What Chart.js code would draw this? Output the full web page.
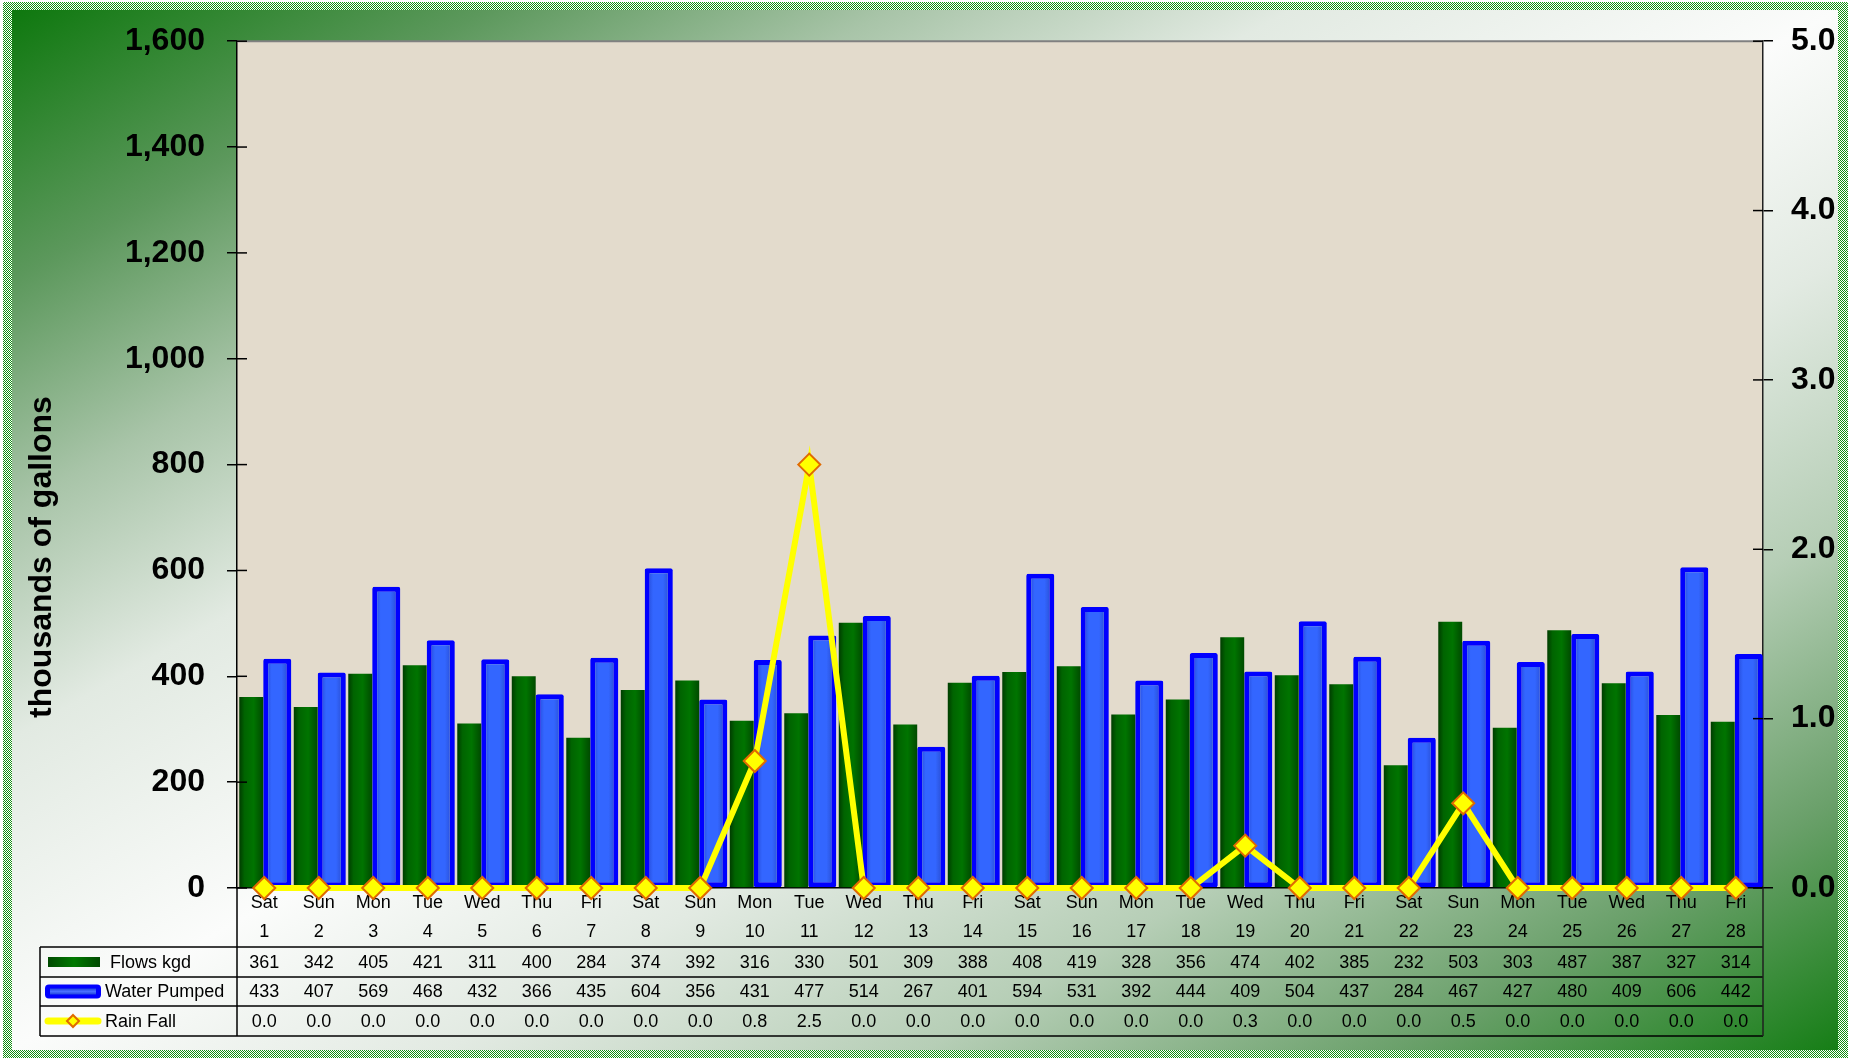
<!DOCTYPE html>
<html>
<head>
<meta charset="utf-8">
<title>Flows and Water Pumped</title>
<script src="https://cdn.jsdelivr.net/npm/chart.js@4.4.1/dist/chart.umd.min.js"></script>
<style>
  html, body { margin: 0; padding: 0; background: #fff; }
  #wrap { width: 1852px; height: 1060px; }
</style>
</head>
<body>
<div id="wrap"><canvas id="flowChart" width="1852" height="1060"></canvas></div>
<script>
// daily values
const days = ['Sat','Sun','Mon','Tue','Wed','Thu','Fri','Sat','Sun','Mon','Tue','Wed','Thu','Fri',
              'Sat','Sun','Mon','Tue','Wed','Thu','Fri','Sat','Sun','Mon','Tue','Wed','Thu','Fri'];
const dates = ['1','2','3','4','5','6','7','8','9','10','11','12','13','14',
               '15','16','17','18','19','20','21','22','23','24','25','26','27','28'];
const flows = [361,342,405,421,311,400,284,374,392,316,330,501,309,388,
               408,419,328,356,474,402,385,232,503,303,487,387,327,314];
const pumped = [433,407,569,468,432,366,435,604,356,431,477,514,267,401,
                594,531,392,444,409,504,437,284,467,427,480,409,606,442];
const rain = [0,0,0,0,0,0,0,0,0,0.75,2.5,0,0,0,
              0,0,0,0,0.25,0,0,0,0.5,0,0,0,0,0];
const seriesNames = ['Flows kgd','Water Pumped','Rain Fall'];
const axisTitle = 'thousands of gallons';

const FONT = "'Liberation Sans', Arial, sans-serif";
Chart.defaults.font.family = FONT;
Chart.defaults.color = '#000';

const CAT_PCT = 0.955;
const greenStops = [[0,'#003c00'],[0.22,'#006400'],[0.6,'#007400'],[1,'#004a00']];
const blueStops = [[0,'#1f3fc8'],[0.3,'#3366ff'],[0.65,'#3366ff'],[1,'#2444c0']];

// horizontal "cylinder" gradient for each bar, placed from the x scale
function barGradient(c, side, pct, stops) {
  const chart = c.chart, area = chart.chartArea, xs = chart.scales.x;
  if (!area || !xs || c.dataIndex === undefined) return stops[1][1];
  const slot = area.width / days.length * CAT_PCT / 2;
  const cx = xs.getPixelForValue(c.dataIndex) + side * slot / 2;
  const w = slot * pct;
  const g = chart.ctx.createLinearGradient(cx - w / 2, 0, cx + w / 2, 0);
  stops.forEach(s => g.addColorStop(s[0], s[1]));
  return g;
}

function line(ctx, x1, y1, x2, y2) {
  ctx.beginPath(); ctx.moveTo(x1, y1); ctx.lineTo(x2, y2); ctx.stroke();
}

const decor = {
  id: 'decor',
  beforeDraw(chart) {
    const ctx = chart.ctx, a = chart.chartArea;
    ctx.save();
    ctx.fillStyle = '#fff';
    ctx.fillRect(0, 0, chart.width, chart.height);
    // checkered frame
    const pc = document.createElement('canvas');
    pc.width = 2; pc.height = 2;
    const p = pc.getContext('2d');
    p.fillStyle = '#ffffff'; p.fillRect(0, 0, 2, 2);
    p.fillStyle = '#139013'; p.fillRect(0, 0, 1, 1); p.fillRect(1, 1, 1, 1);
    ctx.fillStyle = ctx.createPattern(pc, 'repeat');
    ctx.fillRect(3, 2, 1845, 1056);
    // green - white - green background
    ctx.save();
    ctx.translate(12, 10);
    ctx.scale(1826, 1040);
    const g = ctx.createLinearGradient(0, 0, 1, 1);
    g.addColorStop(0, '#0e780e');
    g.addColorStop(0.13, '#5c985c');
    g.addColorStop(0.24, '#a8c4a8');
    g.addColorStop(0.35, '#e2eae2');
    g.addColorStop(0.5, '#fbfcfb');
    g.addColorStop(0.62, '#e2eae2');
    g.addColorStop(0.75, '#b6ceb6');
    g.addColorStop(0.88, '#6aa06a');
    g.addColorStop(1, '#167e16');
    ctx.fillStyle = g;
    ctx.fillRect(0, 0, 1, 1);
    ctx.restore();
    // plot area
    ctx.fillStyle = '#e3dbcc';
    ctx.fillRect(a.left, a.top, a.width, a.height);
    ctx.restore();
  },
  afterDraw(chart) {
    const ctx = chart.ctx, a = chart.chartArea, xs = chart.scales.x;
    const ys = chart.scales.y, y1 = chart.scales.y1;
    ctx.save();
    ctx.strokeStyle = '#808080'; ctx.lineWidth = 2;
    line(ctx, a.left, a.top, a.right, a.top);

    // tick marks crossing into the plot
    ctx.strokeStyle = '#000'; ctx.lineWidth = 1.5;
    ys.ticks.forEach(t => { const y = ys.getPixelForValue(t.value); line(ctx, a.left, y, a.left + 10, y); });
    y1.ticks.forEach(t => { const y = y1.getPixelForValue(t.value); line(ctx, a.right - 10, y, a.right, y); });

    // data table
    const rows = [947, 977, 1006, 1036];
    const tLeft = 40;
    ctx.lineWidth = 1.5; ctx.strokeStyle = '#000';
    rows.forEach(y => line(ctx, tLeft, y, a.right, y));
    line(ctx, tLeft, rows[0], tLeft, rows[3]);
    line(ctx, a.left, a.bottom, a.left, rows[3]);
    ctx.strokeStyle = '#202020';
    line(ctx, a.right, a.bottom, a.right, rows[3]);

    const cells = [flows.map(String), pumped.map(String), rain.map(v => v.toFixed(1))];
    ctx.fillStyle = '#000';
    ctx.font = '18px ' + FONT;
    ctx.textAlign = 'center'; ctx.textBaseline = 'middle';
    cells.forEach((row, r) => {
      const yc = (rows[r] + rows[r + 1]) / 2 + 1;
      row.forEach((txt, i) => ctx.fillText(txt, xs.getPixelForValue(i), yc));
    });

    // legend keys in the first column
    const yc = r => (rows[r] + rows[r + 1]) / 2;
    let g = ctx.createLinearGradient(48, 0, 100, 0);
    g.addColorStop(0, '#004a00'); g.addColorStop(0.5, '#007a00'); g.addColorStop(1, '#004a00');
    ctx.fillStyle = g;
    ctx.fillRect(48, yc(0) - 5, 52, 10);
    ctx.fillStyle = '#0000ff';
    ctx.beginPath(); ctx.roundRect(45, yc(1) - 7, 56, 14, 4); ctx.fill();
    g = ctx.createLinearGradient(0, yc(1) - 3, 0, yc(1) + 3);
    g.addColorStop(0, '#2244dd'); g.addColorStop(0.5, '#4a70ff'); g.addColorStop(1, '#2244dd');
    ctx.fillStyle = g;
    ctx.fillRect(50, yc(1) - 3, 46, 6);
    ctx.strokeStyle = '#ffff00'; ctx.lineWidth = 7; ctx.lineCap = 'round';
    line(ctx, 48, yc(2), 98, yc(2));
    ctx.lineCap = 'butt';
    ctx.beginPath();
    ctx.moveTo(73, yc(2) - 6); ctx.lineTo(79, yc(2)); ctx.lineTo(73, yc(2) + 6); ctx.lineTo(67, yc(2)); ctx.closePath();
    ctx.fillStyle = '#ffff00'; ctx.fill();
    ctx.strokeStyle = '#e06a00'; ctx.lineWidth = 2; ctx.stroke();

    ctx.fillStyle = '#000'; ctx.textAlign = 'left';
    ctx.fillText(seriesNames[0], 110, yc(0) + 1);
    ctx.fillText(seriesNames[1], 105, yc(1) + 1);
    ctx.fillText(seriesNames[2], 105, yc(2) + 1);

    // rotated axis title
    ctx.save();
    ctx.translate(42, 557);
    ctx.rotate(-Math.PI / 2);
    ctx.font = 'bold 32px ' + FONT;
    ctx.textAlign = 'center';
    ctx.fillText(axisTitle, 0, 0);
    ctx.restore();
    ctx.restore();
  }
};

new Chart(document.getElementById('flowChart'), {
  data: {
    labels: days.map((d, i) => [d, dates[i]]),
    datasets: [
      {
        type: 'bar', label: seriesNames[0], data: flows, yAxisID: 'y', order: 2,
        categoryPercentage: CAT_PCT, barPercentage: 0.92,
        backgroundColor: c => barGradient(c, -1, 0.92, greenStops),
        borderWidth: 0
      },
      {
        type: 'bar', label: seriesNames[1], data: pumped, yAxisID: 'y', order: 2,
        categoryPercentage: CAT_PCT, barPercentage: 1.08,
        backgroundColor: c => barGradient(c, 1, 1.08, blueStops),
        borderColor: '#0000ff', borderWidth: 5, borderSkipped: false, borderRadius: 2
      },
      {
        type: 'line', label: seriesNames[2], data: rain, yAxisID: 'y1', order: 0,
        borderColor: '#ffff00', borderWidth: 6, tension: 0, clip: false,
        pointStyle: 'rectRot', pointRadius: 11, pointHoverRadius: 11,
        pointBackgroundColor: '#ffff00', pointBorderColor: '#e06a00', pointBorderWidth: 2
      }
    ]
  },
  options: {
    responsive: false,
    animation: false,
    devicePixelRatio: 1,
    layout: { padding: { top: 41, left: 0, right: 0, bottom: 0 } },
    plugins: { legend: { display: false }, tooltip: { enabled: false } },
    scales: {
      x: {
        grid: { display: false, drawTicks: false },
        border: { display: true, color: '#000', width: 1.5 },
        ticks: { autoSkip: false, maxRotation: 0, minRotation: 0, padding: 1, color: '#000',
                 font: { size: 18, lineHeight: '29px' } },
        afterFit(s) { s.height = 172; }
      },
      y: {
        position: 'left', min: 0, max: 1600,
        ticks: { stepSize: 200, padding: 22, color: '#000', font: { size: 32, weight: 'bold' },
                 callback: v => v.toLocaleString('en-US') },
        grid: { drawOnChartArea: false, tickLength: 10, color: '#000', lineWidth: 1.5 },
        border: { color: '#000', width: 1.5 },
        afterFit(s) { s.width = 237; }
      },
      y1: {
        position: 'right', min: 0, max: 5,
        ticks: { stepSize: 1, padding: 18, color: '#000', font: { size: 32, weight: 'bold' },
                 callback: v => v.toFixed(1) },
        grid: { drawOnChartArea: false, tickLength: 10, color: '#000', lineWidth: 1.5 },
        border: { color: '#202020', width: 1.5 },
        afterFit(s) { s.width = 89; }
      }
    }
  },
  plugins: [decor]
});
</script>
</body>
</html>
